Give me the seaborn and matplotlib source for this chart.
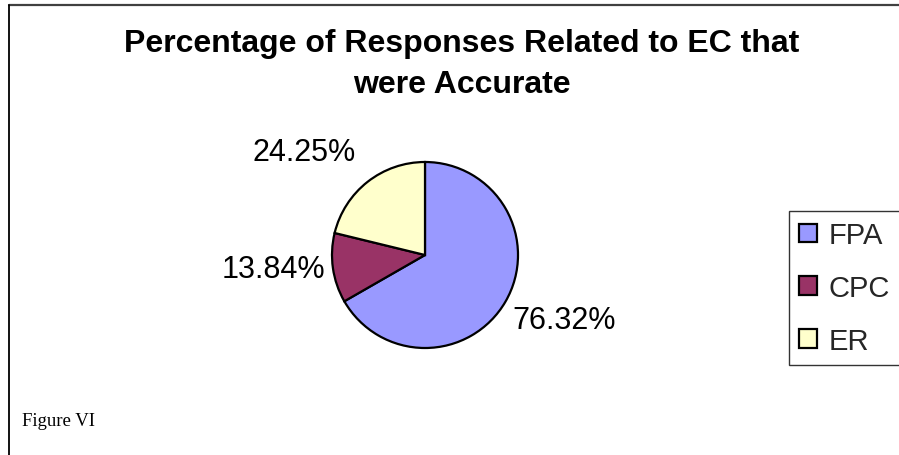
import matplotlib
matplotlib.use("Agg")
import matplotlib.pyplot as plt
from matplotlib.lines import Line2D
import numpy as np
import seaborn as sns

# Data
categories = ["FPA", "CPC", "ER"]
values = [76.32, 13.84, 24.25]
value_labels = ["76.32%", "13.84%", "24.25%"]
title_lines = ["Percentage of Responses Related to EC that", "were Accurate"]
caption = "Figure VI"

sns.set_theme(style="white")
plt.rcParams["font.family"] = ["Liberation Sans", "DejaVu Sans"]

colors = sns.color_palette(["#9999FF", "#993366", "#FFFFCC"])

W, H = 899, 456
fig = plt.figure(figsize=(W / 100, H / 100), dpi=100)
fig.patch.set_facecolor("white")

def fx(px):
    return px / W

def fy(py):
    return 1 - py / H

# Pie axes: centre (425, 256), radius 93 px
cx, cy, r = 425, 256, 93
ax = fig.add_axes([fx(cx - r), fy(cy + r), 2 * r / W, 2 * r / H])
wedges, _ = ax.pie(
    values,
    colors=colors,
    startangle=90,
    counterclock=False,
    wedgeprops=dict(edgecolor="black", linewidth=1.6),
    radius=1.0,
)
ax.set_xlim(-1, 1)
ax.set_ylim(-1, 1)
ax.set_aspect("equal")
ax.axis("off")

# Value labels outside each wedge
for w, lab in zip(wedges, value_labels):
    ang = np.deg2rad((w.theta1 + w.theta2) / 2)
    x, y = np.cos(ang), np.sin(ang)
    ha = "left" if x > 0 else "right"
    if y > 0.5:
        va = "bottom"
        dist = 1.2
    elif y < -0.3:
        va = "top"
        dist = 1.08
    else:
        va = "center"
        dist = 1.08
    ax.text(dist * x, dist * y, lab, ha=ha, va=va, fontsize=22,
            color="black", clip_on=False)

# Title
fig.text(fx(462), fy(52), title_lines[0], ha="center", va="baseline",
         fontsize=23, fontweight="bold", color="black")
fig.text(fx(462), fy(93), title_lines[1], ha="center", va="baseline",
         fontsize=23, fontweight="bold", color="black")

# Legend
leg = fig.legend(
    wedges, categories,
    loc="upper left",
    bbox_to_anchor=(fx(789), fy(212), fx(140), 0),
    mode="expand",
    fontsize=21,
    frameon=True,
    fancybox=False,
    shadow=False,
    handlelength=0.6,
    handleheight=0.6,
    handletextpad=0.4,
    labelspacing=0.85,
    borderpad=0.35,
    borderaxespad=0,
)
leg.get_frame().set_edgecolor("black")
leg.get_frame().set_linewidth(1.0)

# Caption
fig.text(fx(22), fy(426), caption, ha="left", va="baseline", fontsize=13.5,
         family=["Liberation Serif", "DejaVu Serif"], color="black")

# Chart-area border (top and left edges)
fig.add_artist(Line2D([fx(9), 1], [fy(6), fy(6)], transform=fig.transFigure,
                      color="#404040", linewidth=1.6))
fig.add_artist(Line2D([fx(9), fx(9)], [fy(6), 0], transform=fig.transFigure,
                      color="black", linewidth=1.3))

fig.savefig("out.png", dpi=100, facecolor="white")
